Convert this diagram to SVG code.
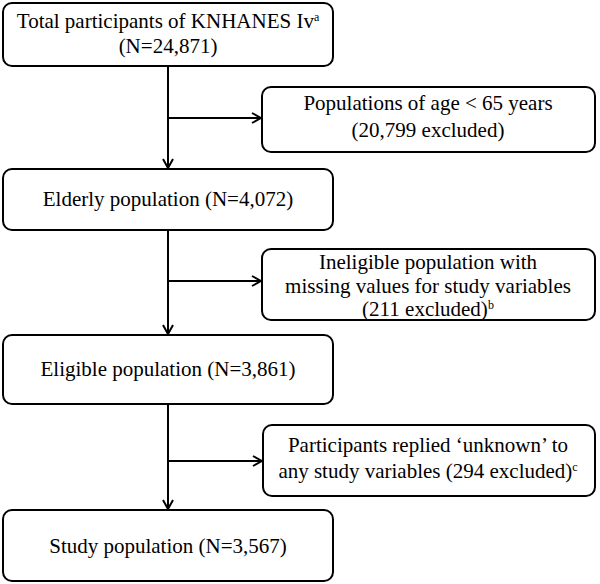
<svg xmlns="http://www.w3.org/2000/svg" width="600" height="584" viewBox="0 0 600 584">
<style>
.box{fill:#fff;stroke:#000;stroke-width:2}
.t{font-family:"Liberation Serif","Times New Roman",serif;font-size:21px;fill:#000;text-anchor:middle}
.sup{font-size:12px}
.ln{stroke:#000;stroke-width:2;fill:none}
</style>
<defs>
<marker id="ah" viewBox="0 0 12 12" refX="11" refY="6" markerWidth="12" markerHeight="12" markerUnits="userSpaceOnUse" orient="auto">
<path d="M2,1 L11,6 L2,11" fill="none" stroke="#000" stroke-width="2"/>
</marker>
</defs>
<g id="connectors">
<line class="ln" x1="168" y1="66" x2="168" y2="168" marker-end="url(#ah)"/>
<line class="ln" x1="168" y1="118" x2="261" y2="118" marker-end="url(#ah)"/>
<line class="ln" x1="168" y1="230" x2="168" y2="334" marker-end="url(#ah)"/>
<line class="ln" x1="168" y1="281" x2="261" y2="281" marker-end="url(#ah)"/>
<line class="ln" x1="168" y1="404" x2="168" y2="509" marker-end="url(#ah)"/>
<line class="ln" x1="168" y1="461" x2="262" y2="461" marker-end="url(#ah)"/>
</g>
<g id="n1">
<rect class="box" x="3" y="3" width="330" height="63" rx="9"/>
<text class="t" x="168" y="28">Total participants of KNHANES Iv<tspan class="sup" dy="-7">a</tspan></text>
<text class="t" x="168" y="53">(N=24,871)</text>
</g>
<g id="n2">
<rect class="box" x="262" y="87" width="333" height="65" rx="9"/>
<text class="t" x="428" y="110">Populations of age &lt; 65 years</text>
<text class="t" x="428" y="137">(20,799 excluded)</text>
</g>
<g id="n3">
<rect class="box" x="3" y="169" width="330" height="61" rx="9"/>
<text class="t" x="168" y="206">Elderly population (N=4,072)</text>
</g>
<g id="n4">
<rect class="box" x="262" y="249" width="333" height="71" rx="9"/>
<text class="t" x="428" y="269">Ineligible population with</text>
<text class="t" x="428" y="293">missing values for study variables</text>
<text class="t" x="428" y="316">(211 excluded)<tspan class="sup" dy="-7">b</tspan></text>
</g>
<g id="n5">
<rect class="box" x="3" y="335" width="330" height="69" rx="9"/>
<text class="t" x="168" y="376">Eligible population (N=3,861)</text>
</g>
<g id="n6">
<rect class="box" x="263" y="425" width="332" height="71" rx="9"/>
<text class="t" x="428" y="452">Participants replied ‘unknown’  to</text>
<text class="t" x="428" y="478">any study variables (294 excluded)<tspan class="sup" dy="-7">c</tspan></text>
</g>
<g id="n7">
<rect class="box" x="3" y="510" width="330" height="71" rx="9"/>
<text class="t" x="168" y="553">Study population (N=3,567)</text>
</g>
</svg>
